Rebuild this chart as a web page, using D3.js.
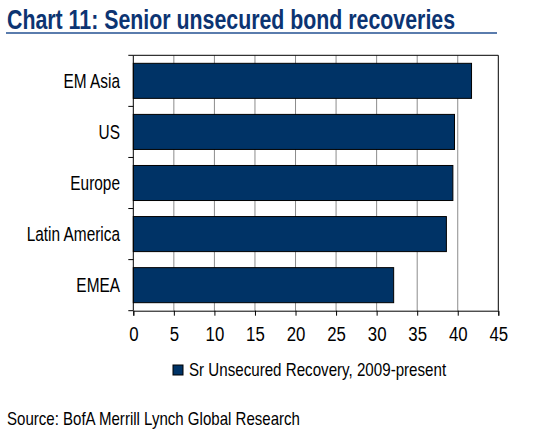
<!DOCTYPE html>
<html>
<head>
<meta charset="utf-8">
<script src="https://cdn.jsdelivr.net/npm/d3@7"></script>
<style>
  body { margin: 0; background: #fff; }
  text { font-family: "Liberation Sans", Arial, sans-serif; }
</style>
</head>
<body>
<div id="chart"></div>
<script>
// chart values
const regions = ["EM Asia", "US", "Europe", "Latin America", "EMEA"];
const recovery = [41.7, 39.6, 39.4, 38.6, 32.1];
const xTicks = [0, 5, 10, 15, 20, 25, 30, 35, 40, 45];
const seriesName = "Sr Unsecured Recovery, 2009-present";
const titleText = "Chart 11: Senior unsecured bond recoveries";
const sourceText = "Source: BofA Merrill Lynch Global Research";

const width = 553, height = 434;
const plot = { left: 133.3, right: 498.3, top: 55.3, bottom: 310.7 };
// no Arial Narrow here, so squeeze Liberation Sans the same way
const narrow = 0.82;

let svg = d3.select("#chart")
    .append("svg")
    .attr("width", width)
    .attr("height", height);

function narrowText(g, px, py, str, k) {
    return g.append("text")
        .attr("transform", `translate(${px},${py}) scale(${k || narrow},1)`)
        .text(str);
}

// title + rule under it
narrowText(svg, 7, 29, titleText, 0.79)
    .style("font-size", "27px")
    .style("font-weight", "bold")
    .attr("fill", "#0c3472");
svg.append("line")
    .attr("x1", 6).attr("x2", 497)
    .attr("y1", 33).attr("y2", 33)
    .attr("stroke", "#5a7cad")
    .attr("stroke-width", 2);

let x = d3.scaleLinear()
    .domain([0, 45])
    .range([plot.left, plot.right]);
let y = d3.scaleBand()
    .domain(regions)
    .range([plot.top, plot.bottom])
    .paddingInner(0.314)
    .paddingOuter(0.157);

// gridlines
svg.append("g")
    .selectAll("line")
    .data(xTicks.slice(1, -1))
    .join("line")
    .attr("x1", d => x(d)).attr("x2", d => x(d))
    .attr("y1", plot.top).attr("y2", plot.bottom)
    .attr("stroke", "#8c8c8c")
    .attr("stroke-width", 1);

// plot border top/right
svg.append("path")
    .attr("d", `M${plot.left},${plot.top}H${plot.right}V${plot.bottom}`)
    .attr("fill", "none")
    .attr("stroke", "#000")
    .attr("stroke-width", 1);

// bars
svg.append("g")
    .selectAll("rect")
    .data(regions)
    .join("rect")
    .attr("x", x(0))
    .attr("y", d => y(d))
    .attr("width", (d, i) => x(recovery[i]) - x(0))
    .attr("height", y.bandwidth())
    .attr("fill", "#003366")
    .attr("stroke", "#000")
    .attr("stroke-width", 1);

// x axis
let xAxis = svg.append("g")
    .attr("transform", `translate(0,${plot.bottom})`)
    .call(d3.axisBottom(x).tickValues(xTicks).tickSize(5).tickPadding(11));
xAxis.select(".domain").attr("stroke", "#000");
xAxis.selectAll(".tick line").attr("stroke", "#000");
xAxis.selectAll("text")
    .attr("transform", `scale(${narrow},1)`)
    .style("font-family", '"Liberation Sans", Arial, sans-serif')
    .style("font-size", "20.5px")
    .attr("fill", "#000");

// y axis: ticks at band boundaries
let yEdges = regions.map(d => y(d) - y.step() * y.paddingInner() / 2);
yEdges.push(plot.bottom);
svg.append("line")
    .attr("x1", plot.left).attr("x2", plot.left)
    .attr("y1", plot.top).attr("y2", plot.bottom)
    .attr("stroke", "#000");
svg.append("g")
    .selectAll("line")
    .data(yEdges)
    .join("line")
    .attr("x1", plot.left - 5).attr("x2", plot.left)
    .attr("y1", d => d).attr("y2", d => d)
    .attr("stroke", "#000");
let yLab = svg.append("g");
regions.forEach(d => {
    narrowText(yLab, 120, y(d) + y.bandwidth() / 2, d, 0.79)
        .attr("dy", "0.35em")
        .attr("text-anchor", "end")
        .style("font-size", "19.5px")
        .attr("fill", "#000");
});

// legend
svg.append("rect")
    .attr("x", 173).attr("y", 365)
    .attr("width", 10).attr("height", 10)
    .attr("fill", "#003366")
    .attr("stroke", "#000");
narrowText(svg, 189, 376, seriesName, 0.865)
    .style("font-size", "17.5px")
    .attr("fill", "#000");

// source
narrowText(svg, 7, 425, sourceText, 0.86)
    .style("font-size", "17.5px")
    .attr("fill", "#000");
</script>
</body>
</html>
